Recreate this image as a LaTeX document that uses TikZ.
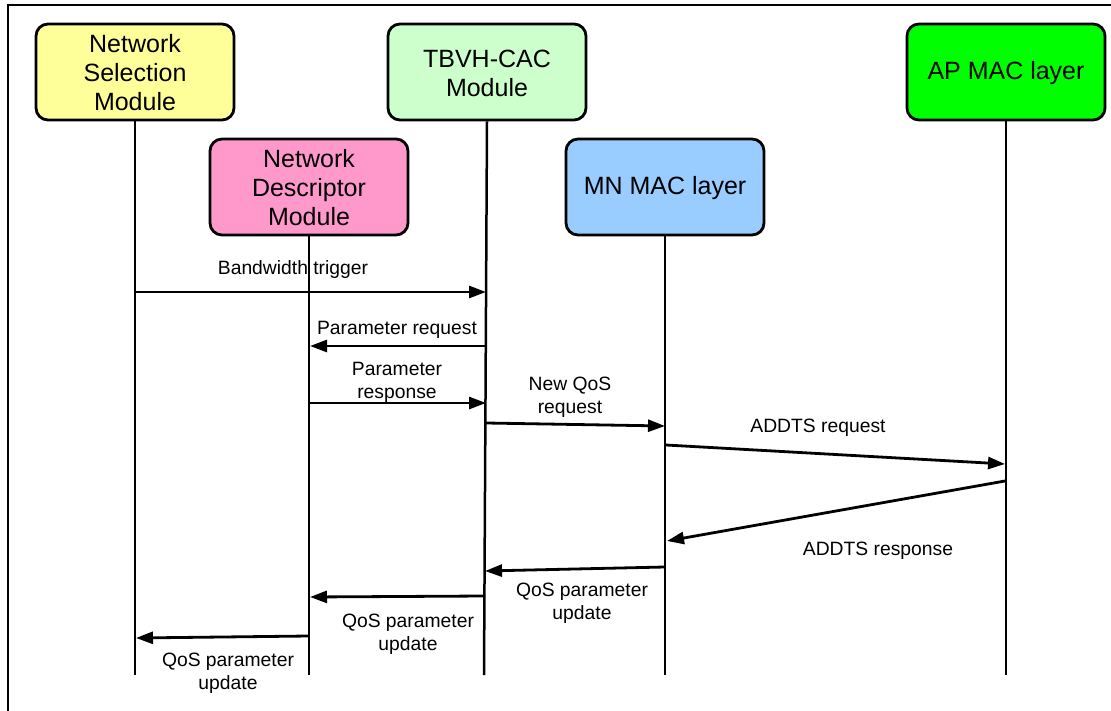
\documentclass[tikz,border=0pt]{standalone}
\usepackage{fontspec}
\setmainfont{Liberation Sans}
\usetikzlibrary{arrows.meta}
\definecolor{nsyellow}{HTML}{FFFF99}
\definecolor{tbgreen}{HTML}{CCFFCC}
\definecolor{apgreen}{HTML}{00FF00}
\definecolor{ndpink}{HTML}{FF99CC}
\definecolor{mnblue}{HTML}{99CCFF}
\begin{document}
\begin{tikzpicture}[x=1pt,y=-1pt,
  module/.style={draw=black, line width=2.8pt, rounded corners=12pt, minimum width=198pt, minimum height=96pt, align=center, font=\fontsize{25}{29}\selectfont, inner sep=0pt},
  modtext/.style={align=center, font=\fontsize{25}{29}\selectfont, inner sep=0pt},
  life/.style={line width=2.5pt},
  msg/.style={line width=2.8pt, -{Triangle[length=17pt,width=12pt]}},
  lbl/.style={align=center, font=\fontsize{19.3}{23}\selectfont, inner sep=0pt}]
\useasboundingbox (0,0) rectangle (1111,711);
\begin{scope}
\clip (0,0) rectangle (1111,711);
\draw[line width=2.8pt] (8,5) rectangle (1130,730);
\end{scope}
% modules (boxes)
\node[module, fill=nsyellow] (ns) at (135,72) {};
\node[module, fill=tbgreen] (tb) at (487,72) {};
\node[module, fill=apgreen] (ap) at (1006,72) {};
\node[module, fill=ndpink] (nd) at (309,187) {};
\node[module, fill=mnblue] (mn) at (665,187) {};
% module texts
\node[modtext] (nst) at ([yshift=-0.5pt]ns.center) {Network\\Selection\\Module};
\node[modtext] (tbt) at ([yshift=-1pt]tb.center) {TBVH-CAC\\Module};
\node[modtext] (apt) at ([yshift=-1.5pt]ap.center) {AP MAC layer};
\node[modtext] (ndt) at ([yshift=-0.5pt]nd.center) {Network\\Descriptor\\Module};
\node[modtext] (mnt) at ([yshift=-1.5pt]mn.center) {MN MAC layer};
% lifeline ends
\coordinate (nsend) at (135,675);
\coordinate (tbend) at (484,675);
\coordinate (apend) at (1006,675);
\coordinate (ndend) at (309,675);
\coordinate (mnend) at (665,675);
\draw[life] (ns.south) -- (nsend);
\draw[life] (tb.south) -- (tbend);
\draw[life] (ap.south) -- (apend);
\draw[life] (nd.south) -- (ndend);
\draw[life] (mn.south) -- (mnend);
% message points
\coordinate (a1) at (135,292); \coordinate (b1) at (486,292);
\coordinate (a2) at (486,346); \coordinate (b2) at (310,346);
\coordinate (a3) at (310,403); \coordinate (b3) at (486,403);
\coordinate (a4) at (486,423); \coordinate (b4) at (665,426);
\coordinate (a5) at (666,445); \coordinate (b5) at (1005,464);
\coordinate (a6) at (1005,481); \coordinate (b6) at (667,541);
\coordinate (a7) at (665,567); \coordinate (b7) at (485,571);
\coordinate (a8) at (485,596); \coordinate (b8) at (310,597);
\coordinate (a9) at (309,636); \coordinate (b9) at (136,638);
\draw[msg] (a1) -- (b1);
\draw[msg] (a2) -- (b2);
\draw[msg] (a3) -- (b3);
\draw[msg] (a4) -- (b4);
\draw[msg] (a5) -- (b5);
\draw[msg] (a6) -- (b6);
\draw[msg] (a7) -- (b7);
\draw[msg] (a8) -- (b8);
\draw[msg] (a9) -- (b9);
% labels
\node[lbl] (l1) at (293,270) {Bandwidth trigger};
\node[lbl] (l2) at (397,330) {Parameter request};
\node[lbl] (l3) at (397,382) {Parameter\\response};
\node[lbl] (l4) at (570,397) {New QoS\\request};
\node[lbl] (l5) at (818,428) {ADDTS request};
\node[lbl] (l6) at (878,551) {ADDTS response};
\node[lbl] (l7) at (582,603) {QoS parameter\\update};
\node[lbl] (l8) at (408,634) {QoS parameter\\update};
\node[lbl] (l9) at (228,673) {QoS parameter\\update};
\end{tikzpicture}
\end{document}
